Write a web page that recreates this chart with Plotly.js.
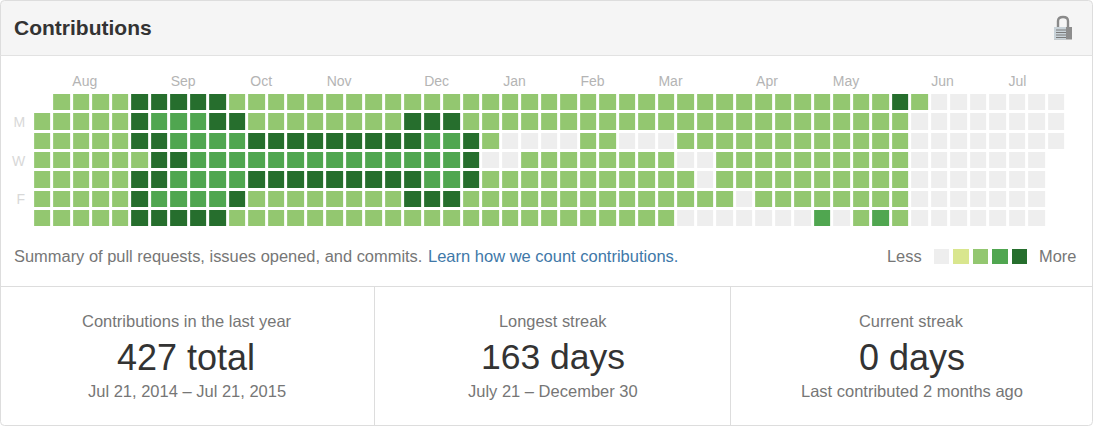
<!DOCTYPE html>
<html><head><meta charset="utf-8">
<script src="https://cdn.plot.ly/plotly-3.0.1.min.js"></script>
<style>html,body{margin:0;padding:0;background:#fff;overflow:hidden}#c{width:1099px;height:444px}</style>
</head><body><div id="c"></div>
<script>
const W2=[2,2,2,2,2,2,2], ZZ=[0,0,0,0,0,0,0], A=[2,2,4,3,4,2,2], B=[2,4,3,3,3,4,2], C=[2,2,0,2,2,2,2], D=[2,2,2,2,2,2,0];
const weeks=[[null,2,2,2,2,2,2],W2,W2,W2,W2,
 [4,4,4,2,4,4,4],[4,3,4,4,4,3,4],[4,3,3,4,3,3,4],[4,3,3,3,3,3,4],[4,4,3,3,3,3,4],B,
 A,A,A,A,A,A,A,A,
 [2,4,4,3,4,4,2],B,B,[2,2,4,4,4,2,2],[2,2,2,0,2,2,2],[2,2,0,0,2,2,2],C,C,C,W2,W2,C,C,C,
 [2,2,2,0,2,2,0],[2,2,2,0,0,2,0],D,[2,2,2,2,2,0,0],D,D,D,[2,2,2,2,2,2,3],D,W2,[2,2,2,2,2,2,3],[4,2,2,2,2,2,2],
 [2,0,0,0,0,0,0],ZZ,ZZ,ZZ,ZZ,ZZ,ZZ,[0,0,0,null,null,null,null]];
const monthLabels=["Aug","Sep","Oct","Nov","Dec","Jan","Feb","Mar","Apr","May","Jun","Jul"];
const monthTicks=[2.15,7.2,11.2,15.2,20.2,24.2,28.2,32.2,37.15,41.2,46.15,50.0];
const dayLabels=["M","W","F"];
const dayRows=[1,3,5];
const legendLevels=[0,1,2,3,4];
const levelColors=["#eeeeee","#d9e68e","#93c770","#50a650","#266e2d"];

const PW=1099,PH=444;
const px=x=>x/PW, py=y=>1-y/PH;
const zRows=[0,1,2,3,4,5,6].map(r=>weeks.map(w=>w[r]));
const scale=[];
levelColors.forEach((c,i)=>{scale.push([i/5,c]);scale.push([(i+1)/5,c]);});

const txt=(t,x,y,size,color,anchor,bold)=>({text:bold?'<b>'+t+'</b>':t,xref:'paper',yref:'paper',x:px(x),y:py(y),xanchor:anchor||'center',yanchor:'middle',showarrow:false,borderpad:0,borderwidth:0,font:{family:'"Liberation Sans",Arial,sans-serif',size:size,color:color}});
const line=(x0,y0,x1,y1,c)=>({type:'line',xref:'paper',yref:'paper',x0:px(x0),y0:py(y0),x1:px(x1),y1:py(y1),line:{color:c||'#dddddd',width:1}});
const box=(x0,y0,x1,y1,f)=>({type:'rect',xref:'paper',yref:'paper',x0:px(x0),y0:py(y0),x1:px(x1),y1:py(y1),fillcolor:f,line:{width:0}});
const P=(x,y)=>px(x)+','+py(y);
const rr=(x0,y0,x1,y1,r)=>`M${P(x0+r,y0)} L${P(x1-r,y0)} Q${P(x1,y0)} ${P(x1,y0+r)} L${P(x1,y1-r)} Q${P(x1,y1)} ${P(x1-r,y1)} L${P(x0+r,y1)} Q${P(x0,y1)} ${P(x0,y1-r)} L${P(x0,y0+r)} Q${P(x0,y0)} ${P(x0+r,y0)} Z`;

const shapes=[
 {type:'path',xref:'paper',yref:'paper',layer:'below',path:`M${P(0.5,55.5)} L${P(0.5,4)} Q${P(0.5,0.5)} ${P(4,0.5)} L${P(1089,0.5)} Q${P(1092.5,0.5)} ${P(1092.5,4)} L${P(1092.5,55.5)} Z`,fillcolor:'#f5f5f5',line:{width:0}},
 {type:'path',xref:'paper',yref:'paper',path:rr(0.5,0.5,1092.5,425.5,4),line:{color:'#dddddd',width:1},fillcolor:'rgba(0,0,0,0)'},
 line(0.5,55.5,1092.5,55.5,'#e2e2e2'),
 line(0.5,286.5,1092.5,286.5),
 line(374.5,286.5,374.5,425.5),
 line(730.5,286.5,730.5,425.5),
 // lock icon
 {type:'path',xref:'paper',yref:'paper',path:`M${P(1058,28)} L${P(1058,21)} Q${P(1058,17)} ${P(1063,17)} Q${P(1068,17)} ${P(1068,21)} L${P(1068,28)}`,line:{color:'#8a8a8a',width:2.4},fillcolor:'rgba(0,0,0,0)'},
 box(1054,27,1072,39.5,'#8d8d8d'),
 box(1054,27,1066,39.5,'#c9d3d9'),
 box(1056,29.5,1066,30.5,'#7a7a7a'),
 box(1056,32,1066,33,'#7a7a7a'),
 box(1056,34.5,1066,35.5,'#7a7a7a'),
 box(1056,37,1066,38,'#7a7a7a'),
];

const G='#767676', D2='#333333';
const annotations=[
 txt('Contributions',14,27.3,21,D2,'left',true),
 txt('Summary of pull requests, issues opened, and commits.',14,255.8,16.45,G,'left'),
 txt('Learn how we count contributions.',428,255.8,16.5,'#4078a8','left'),
 txt('Less',887,255.8,16.4,G,'left'),
 txt('More',1039,255.8,16.4,G,'left'),
 txt('Contributions in the last year',187,321,16.5,G),
 txt('427 total',186,357,36,D2),
 txt('Jul 21, 2014 – Jul 21, 2015',186.5,391,16.5,G),
 txt('Longest streak',553,321,16.4,G),
 txt('163 days',553,357,35.5,D2),
 txt('July 21 – December 30',553,391,16.5,G),
 txt('Current streak',911.5,321,16.4,G),
 txt('0 days',911.5,357,36,D2),
 txt('Last contributed 2 months ago',911.5,391,16.5,G),
];

const data=[
 {type:'heatmap',z:zRows,x:weeks.map((_,i)=>i),y:[0,1,2,3,4,5,6],xgap:3,ygap:3,zmin:0,zmax:5,colorscale:scale,showscale:false,hoverinfo:'skip',xaxis:'x',yaxis:'y'},
 {type:'heatmap',z:[legendLevels],x:legendLevels,y:[0],xgap:4,ygap:0,zmin:0,zmax:5,colorscale:scale,showscale:false,hoverinfo:'skip',xaxis:'x2',yaxis:'y2'}
];
const font={family:'"Liberation Sans",Arial,sans-serif'};
const layout={
 width:PW,height:PH,margin:{l:0,r:0,t:0,b:0},paper_bgcolor:'#ffffff',plot_bgcolor:'rgba(0,0,0,0)',showlegend:false,font,
 xaxis:{domain:[px(33.1),px(1066.2)],range:[-0.5,52.5],side:'top',tickmode:'array',tickvals:monthTicks,ticktext:monthLabels,showgrid:false,zeroline:false,showline:false,ticks:'',tickfont:{size:14,color:'#b4b4b4'},ticklabelstandoff:3,fixedrange:true},
 yaxis:{domain:[py(228.3),py(93)],range:[6.5,-0.5],tickmode:'array',tickvals:dayRows,ticktext:dayLabels,showgrid:false,zeroline:false,showline:false,ticks:'',tickfont:{size:14,color:'#d8d8d8'},ticklabelstandoff:7,fixedrange:true},
 xaxis2:{domain:[px(932),px(1029)],range:[-0.5,4.5],anchor:'y2',visible:false,fixedrange:true},
 yaxis2:{domain:[py(264),py(249)],range:[-0.5,0.5],anchor:'x2',visible:false,fixedrange:true},
 shapes,annotations
};
Plotly.newPlot('c',data,layout,{displayModeBar:false,staticPlot:true});
</script></body></html>
